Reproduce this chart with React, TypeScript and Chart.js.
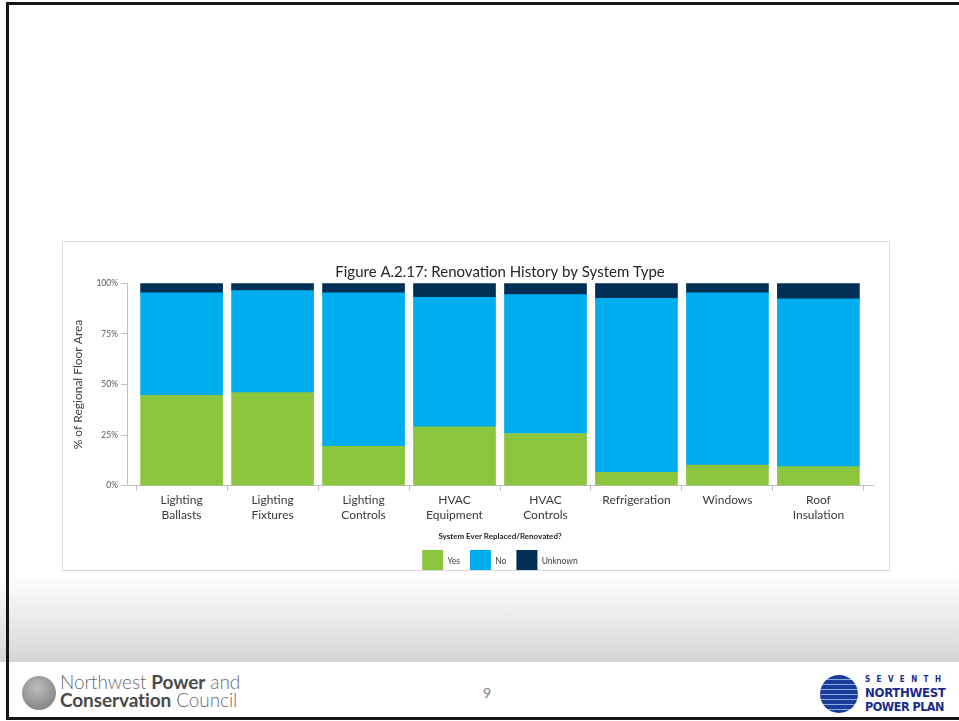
import React, { useEffect, useRef } from "react";
import { Chart, registerables } from "chart.js";

Chart.register(...registerables);

const chartTitle = "Figure A.2.17: Renovation History by System Type";
const yAxisTitle = "% of Regional Floor Area";
const legendTitle = "System Ever Replaced/Renovated?";

const categoryLines: string[][] = [
  ["Lighting", "Ballasts"],
  ["Lighting", "Fixtures"],
  ["Lighting", "Controls"],
  ["HVAC", "Equipment"],
  ["HVAC", "Controls"],
  ["Refrigeration"],
  ["Windows"],
  ["Roof", "Insulation"],
];

const seriesNames = ["Yes", "No", "Unknown"];
const yesValues = [44.7, 46.0, 19.5, 29.1, 25.8, 6.6, 10.2, 9.4];
const noValues = [50.6, 50.4, 75.8, 64.0, 68.6, 86.0, 85.1, 82.9];
const unknownValues = [4.7, 3.6, 4.7, 6.9, 5.6, 7.4, 4.7, 7.7];
const yTickValues = [0, 25, 50, 75, 100];

const seriesColors = ["#8cc63f", "#00adef", "#022f56"];

const FONT = "Lato, 'Open Sans', 'Noto Sans', sans-serif";

function toPoints(values: number[]) {
  return values.map((v, i) => ({ x: i, y: v }));
}

function RenovationChart() {
  const ref = useRef<HTMLCanvasElement | null>(null);

  useEffect(() => {
    if (!ref.current) return;
    Chart.defaults.font.family = FONT;
    const allSeries = [yesValues, noValues, unknownValues];
    const chart = new Chart(ref.current, {
      type: "bar",
      data: {
        datasets: allSeries.map((vals, k) => ({
          label: seriesNames[k],
          data: toPoints(vals),
          backgroundColor: seriesColors[k],
          borderWidth: 0,
          barThickness: 82,
        })),
      },
      options: {
        responsive: false,
        animation: false,
        events: [],
        layout: { padding: { left: 0, right: 15, top: 0, bottom: 0 } },
        scales: {
          x: {
            type: "linear",
            stacked: true,
            min: -0.6,
            max: 7.6,
            offset: false,
            afterBuildTicks: (axis: any) => {
              axis.ticks = categoryLines.map((_, i) => ({ value: i }));
            },
            afterFit: (axis: any) => {
              axis.height = 40;
            },
            ticks: {
              autoSkip: false,
              maxRotation: 0,
              minRotation: 0,
              padding: 2,
              color: "#3a3a3a",
              font: { family: FONT, size: 12, lineHeight: 1.25 },
              callback: (v: any) => categoryLines[Math.round(Number(v))] ?? "",
            },
            grid: {
              display: true,
              drawOnChartArea: false,
              drawTicks: true,
              tickLength: 5,
              color: "#bfbfbf",
            },
            border: { display: true, color: "#bfbfbf", width: 1 },
          },
          y: {
            stacked: true,
            min: 0,
            max: 100,
            afterBuildTicks: (axis: any) => {
              axis.ticks = yTickValues.map((v) => ({ value: v }));
            },
            afterFit: (axis: any) => {
              axis.width = 64;
            },
            ticks: {
              padding: 3,
              color: "#595959",
              font: { family: FONT, size: 8.5 },
              callback: (v: any) => `${v}%`,
            },
            grid: {
              display: true,
              drawOnChartArea: false,
              drawTicks: true,
              tickLength: 6,
              color: "#bfbfbf",
            },
            border: { display: true, color: "#bfbfbf", width: 1 },
            title: {
              display: true,
              text: yAxisTitle,
              color: "#404040",
              font: { family: FONT, size: 12 },
              padding: { top: 7.8, bottom: 0 },
            },
          },
        },
        plugins: {
          tooltip: { enabled: false },
          title: {
            display: true,
            text: chartTitle,
            fullSize: false,
            color: "#262626",
            font: { family: FONT, size: 15, weight: "normal" },
            padding: { top: 21.3, bottom: 2 },
          },
          legend: {
            display: true,
            position: "bottom",
            fullSize: false,
            title: {
              display: true,
              text: legendTitle,
              color: "#262626",
              font: { family: FONT, size: 8, weight: "bold" },
              padding: { top: 6.7, bottom: -2 },
            },
            labels: {
              boxWidth: 21,
              boxHeight: 22,
              padding: 10,
              color: "#404040",
              font: { family: FONT, size: 8.5 },
            },
          },
        },
      },
    } as any);
    return () => chart.destroy();
  }, []);

  return <canvas ref={ref} width={825} height={340} style={{ display: "block", width: 825, height: 340 }} />;
}

export default function App() {
  return (
    <div
      style={{
        position: "fixed",
        left: 0,
        top: 0,
        width: 959,
        height: 721,
        background: "#ffffff",
        overflow: "hidden",
        fontFamily: FONT,
      }}
    >
      {/* gradient band */}
      <div
        style={{
          position: "absolute",
          left: 0,
          top: 574,
          width: 959,
          height: 88,
          background: "linear-gradient(#ffffff, #d6d6d6)",
        }}
      />
      {/* chart picture box */}
      <div
        style={{
          position: "absolute",
          left: 62,
          top: 241,
          width: 826,
          height: 328,
          border: "1px solid #dadada",
          background: "#ffffff",
          overflow: "hidden",
        }}
      >
        <RenovationChart />
      </div>

      {/* footer: NWPCC logo */}
      <div
        style={{
          position: "absolute",
          left: 22,
          top: 676,
          width: 34,
          height: 34,
          borderRadius: "50%",
          background: "radial-gradient(circle at 45% 35%, #bdbdbd, #8a8a8a 70%, #9a9a9a)",
        }}
      />
      <div
        style={{
          position: "absolute",
          left: 60,
          top: 673,
          fontSize: 19,
          lineHeight: "18px",
          color: "#6a6a6a",
          letterSpacing: -0.1,
          whiteSpace: "nowrap",
          fontWeight: 300,
        }}
      >
        <div>
          Northwest <span style={{ fontWeight: 700, color: "#4a4a4a" }}>Power</span> and
        </div>
        <div>
          <span style={{ fontWeight: 700, color: "#4a4a4a" }}>Conservation</span> Council
        </div>
      </div>

      {/* page number */}
      <div
        style={{
          position: "absolute",
          left: 483,
          top: 684,
          fontSize: 14,
          color: "#808080",
        }}
      >
        9
      </div>

      {/* Seventh plan logo */}
      <div
        style={{
          position: "absolute",
          left: 820,
          top: 675,
          width: 38,
          height: 38,
          borderRadius: "50%",
          background:
            "repeating-linear-gradient(180deg, #1e3a9a 0px, #1e3a9a 4px, #7fb3e6 4px, #7fb3e6 5px)",
        }}
      />
      <div
        style={{
          position: "absolute",
          left: 865,
          top: 674,
          color: "#1b2c8c",
          fontFamily: "'DejaVu Sans Condensed', 'DejaVu Sans', sans-serif",
          fontWeight: 700,
          whiteSpace: "nowrap",
        }}
      >
        <div style={{ fontSize: 8, lineHeight: "12px", letterSpacing: 6.4 }}>SEVENTH</div>
        <div style={{ fontSize: 13, lineHeight: "14px", letterSpacing: -0.3 }}>NORTHWEST</div>
        <div style={{ fontSize: 12.5, lineHeight: "14px", letterSpacing: -0.5 }}>POWER PLAN</div>
      </div>

      {/* slide frame */}
      <div
        style={{
          position: "absolute",
          left: 6,
          top: 2,
          width: 970,
          height: 718,
          border: "3px solid #151515",
          boxSizing: "border-box",
          pointerEvents: "none",
        }}
      />
    </div>
  );
}
